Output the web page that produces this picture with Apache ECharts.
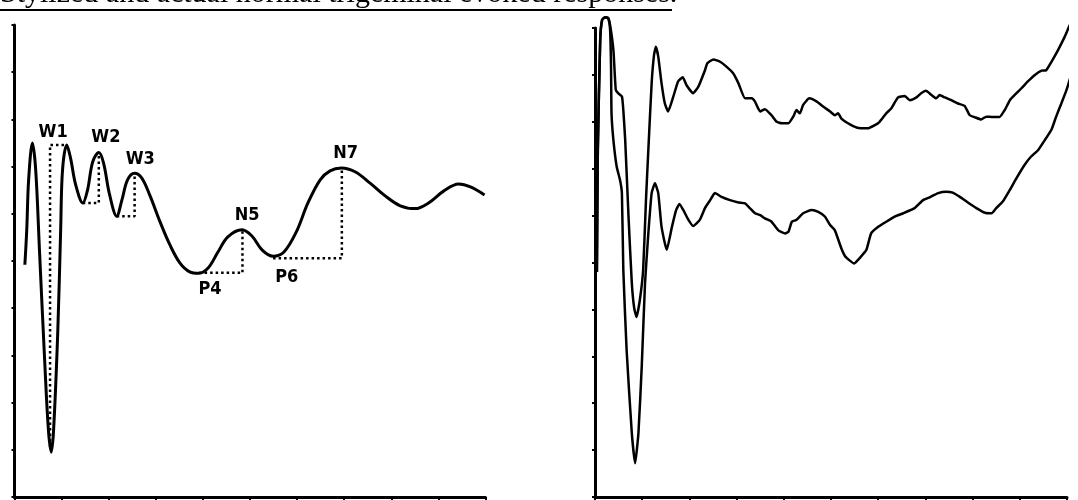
<!DOCTYPE html>
<html><head><meta charset="utf-8">
<script src="https://cdn.jsdelivr.net/npm/echarts@6/dist/echarts.min.js"></script>
<style>html,body{margin:0;padding:0;background:#fff}#c{width:1078px;height:500px}</style>
</head><body><div id="c"></div>
<script>
// Stylized response (left panel), arbitrary units 0-100
const stylX = [2.2,2.6,3.0,3.8,4.5,5.3,6.4,7.2,7.8,8.3,9.2,9.8,10.2,11.1,11.9,13.0,14.5,15.5,16.6,17.9,18.9,20.2,21.7,22.8,24.0,25.5,27.0,28.7,30.9,33.0,35.1,37.2,39.2,41.1,43.2,45.3,48.3,50.4,52.6,54.9,57.2,59.8,62.3,64.9,67.0,69.4,72.3,75.5,78.7,81.9,85.1,87.9,91.1,94.3,96.8,99.8];
const stylY = [49.2,56.6,67.2,75.0,69.3,52.3,29.0,14.2,9.5,14.2,35.4,56.6,69.3,74.6,71.8,66.1,62.3,65.0,71.0,73.0,70.8,64.0,59.5,62.9,67.2,68.6,67.6,64.0,58.3,53.4,49.6,47.7,47.4,48.5,51.9,55.1,56.6,55.3,52.3,51.0,51.9,56.1,62.3,67.2,69.1,69.7,68.9,66.5,63.8,61.7,61.1,62.3,64.8,66.3,65.7,64.0];

// Dotted measurement guides (left panel)
const guideW1 = [[7.55,10.6],[7.55,74.6],[10.85,74.6]];
const guideW2 = [[14.5,62.3],[17.9,62.3],[17.9,72.9]];
const guideW3 = [[21.7,59.5],[25.5,59.5],[25.5,68.4]];
const guideN5 = [[39.2,47.5],[48.4,47.5],[48.4,56.4]];
const guideN7 = [[54.9,50.6],[69.5,50.6],[69.5,69.7]];

// Peak labels
const peakNames = ['W1','W2','W3','N5','N7','P4','P6'];
const peakX = [8.2,19.4,26.7,49.4,70.3,41.5,57.8];
const peakY = [77.3,76.3,71.6,59.7,72.9,44.1,46.6];

// Actual responses (right panel), upper trace
const upX = [0.4,0.6,1.1,1.5,2.1,2.8,3.2,3.9,4.4,4.9,5.7,6.0,6.4,7.1,7.8,8.3,8.8,9.5,10.2,10.8,11.3,12.0,12.5,12.9,13.4,14.1,14.8,15.5,16.6,17.6,18.6,19.4,20.8,21.9,23.3,23.8,25.1,26.5,27.9,29.3,30.4,31.8,33.2,33.9,35.0,36.0,37.4,38.5,39.6,41.0,42.0,42.7,43.4,44.1,45.4,47.0,48.4,49.8,50.8,51.5,52.2,53.6,55.4,57.8,59.3,60.3,61.7,62.8,64.2,65.6,66.7,68.1,69.1,70.1,71.3,72.3,73.0,74.1,75.5,76.9,78.3,79.4,80.4,81.8,82.9,84.3,85.7,86.8,87.9,89.3,90.3,91.7,93.2,94.6,95.6,96.7,98.1,99.5,100.6,101.6,102.3];
const upY = [48.0,74.0,97.4,101.7,102.3,102.1,100.6,95.3,86.8,86.1,85.4,82.5,76.1,59.8,45.6,40.3,38.4,42.0,48.4,63.3,74.0,88.2,94.2,96.0,93.9,88.2,83.9,82.2,85.4,88.6,89.5,87.8,86.1,87.5,91.0,92.5,93.3,92.8,91.7,90.3,88.2,85.0,85.0,84.3,82.2,82.7,81.4,80.0,79.7,79.7,81.1,82.5,81.8,83.6,85.0,84.3,83.2,82.2,81.4,81.8,80.7,79.7,78.8,78.6,79.3,80.0,81.8,82.9,85.2,85.5,84.6,85.2,86.1,86.6,85.7,85.0,85.7,85.2,84.6,83.9,83.4,81.4,81.0,80.5,81.1,81.0,81.0,82.5,84.6,86.1,87.1,88.6,90.0,90.9,91.0,92.8,95.3,98.1,100.6,102.1,102.3];

// lower trace
const lowX = [0.4,0.6,1.1,1.5,2.1,2.8,3.2,3.4,3.5,3.9,4.6,5.3,5.7,6.0,6.7,7.8,8.5,9.2,9.9,10.6,11.3,12.0,12.7,13.4,14.1,15.2,16.3,17.2,17.9,18.7,19.8,20.8,22.2,23.3,24.4,25.4,26.8,28.6,30.4,31.8,32.8,33.9,35.0,36.0,37.4,38.8,40.3,41.0,41.7,42.7,44.1,45.9,47.3,48.7,49.8,50.8,52.2,53.1,54.9,56.3,57.5,58.5,60.0,61.7,63.5,65.3,67.7,69.5,70.9,72.7,74.4,75.8,77.3,79.0,80.8,82.6,84.0,85.0,86.4,87.9,89.3,91.0,92.4,93.9,95.3,96.7,97.7,98.8,99.9,100.9,102.0,102.3];
const lowY = [48.0,74.0,97.4,101.7,102.3,102.1,99.6,91.7,81.8,76.1,70.4,67.6,64.8,48.4,31.3,13.6,7.2,13.6,27.8,45.6,56.2,64.8,66.9,64.8,57.6,52.7,57.6,61.2,62.5,61.2,59.1,57.8,59.1,61.6,63.3,64.8,64.0,63.3,62.8,62.6,61.6,60.5,60.1,59.4,58.7,56.9,56.2,56.6,58.7,59.1,60.5,61.2,60.8,59.8,58.0,56.9,53.0,51.2,49.8,51.2,52.7,56.2,57.6,58.7,59.8,60.5,61.6,63.3,63.9,64.8,65.1,64.9,64.0,62.8,61.6,60.6,60.5,61.6,63.0,65.5,68.0,70.8,72.6,74.0,76.1,78.3,81.1,83.9,86.8,90.0,92.5,93.4];

const titleText = 'Stylized and actual normal trigeminal evoked responses.';

const zip = (xs, ys) => xs.map((x, i) => [x, ys[i]]);
const ink = '#000';

function axisPair(idx) {
  return {
    x: {gridIndex: idx, type: 'value', min: 0, max: 100, interval: 10,
        axisLine: {show: true, lineStyle: {color: ink, width: 3}},
        axisTick: {show: true, length: 3, lineStyle: {color: ink, width: 2}},
        axisLabel: {show: false}, splitLine: {show: false}},
    y: {gridIndex: idx, type: 'value', min: 0, max: 100, interval: 10,
        axisLine: {show: true, lineStyle: {color: ink, width: 3}},
        axisTick: {show: true, length: 3, lineStyle: {color: ink, width: 2}},
        axisLabel: {show: false}, splitLine: {show: false}}
  };
}
const a0 = axisPair(0), a1 = axisPair(1);

function guide(d) {
  return {type: 'line', xAxisIndex: 0, yAxisIndex: 0, data: d, showSymbol: false, symbol: 'none',
    lineStyle: {color: ink, width: 2.5, type: [2.5, 3]}, silent: true, z: 3};
}

const chart = echarts.init(document.getElementById('c'), null, {renderer: 'canvas'});
chart.setOption({
  animation: false,
  backgroundColor: '#fff',
  grid: [
    {left: 14.5, right: 592.5, top: 25, bottom: 3},
    {left: 595, right: 11, top: 28, bottom: 3}
  ],
  xAxis: [a0.x, a1.x],
  yAxis: [a0.y, a1.y],
  graphic: [
    {type: 'text', left: 0, top: -21, z: 10,
     style: {text: titleText, font: '30px "Liberation Serif", "Times New Roman", serif', fill: ink}},
    {type: 'rect', shape: {x: 0, y: 9, width: 672, height: 2}, style: {fill: ink}, z: 10}
  ],
  series: [
    {type: 'line', xAxisIndex: 0, yAxisIndex: 0, data: zip(stylX, stylY), smooth: 0.35,
     showSymbol: false, symbol: 'none', lineStyle: {color: ink, width: 3}, z: 4},
    guide(guideW1), guide(guideW2), guide(guideW3), guide(guideN5), guide(guideN7),
    {type: 'scatter', xAxisIndex: 0, yAxisIndex: 0, symbolSize: 0,
     itemStyle: {opacity: 1, color: ink},
     data: peakNames.map((n, i) => ({name: n, value: [peakX[i], peakY[i]]})),
     label: {show: true, position: 'inside', formatter: p => p.name, color: '#000',
             textBorderWidth: 0, opacity: 1,
             fontFamily: '"Liberation Sans Narrow", "DejaVu Sans Condensed", sans-serif',
             fontWeight: 'bold', fontSize: 18}, z: 5},
    {type: 'line', xAxisIndex: 1, yAxisIndex: 1, data: zip(upX, upY), smooth: 0.15, clip: false,
     showSymbol: false, symbol: 'none', lineStyle: {color: ink, width: 2.5}, z: 4},
    {type: 'line', xAxisIndex: 1, yAxisIndex: 1, data: zip(lowX, lowY), smooth: 0.15, clip: false,
     showSymbol: false, symbol: 'none', lineStyle: {color: ink, width: 2.5}, z: 4}
  ]
});
</script></body></html>
